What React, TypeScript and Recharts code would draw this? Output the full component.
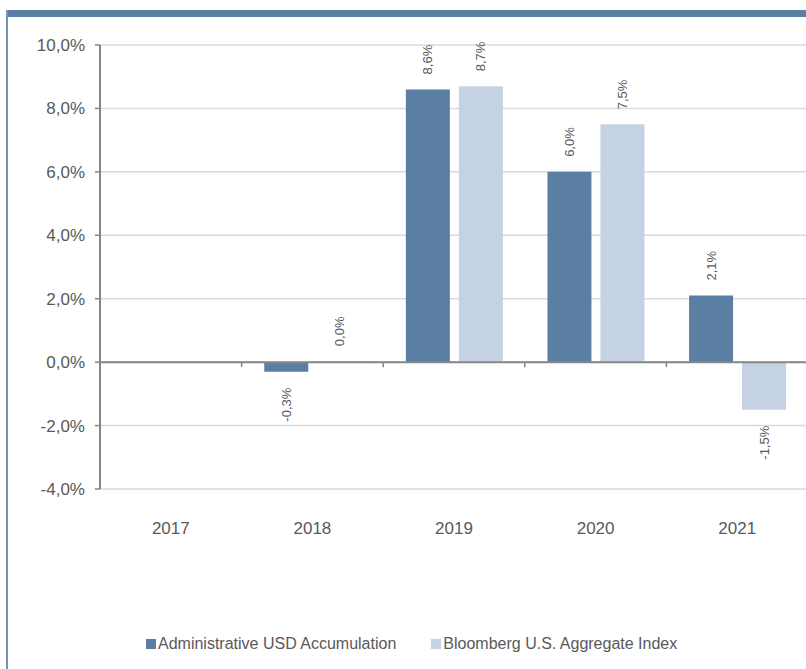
import React from "react";
import { BarChart, Bar, XAxis, YAxis, CartesianGrid, ReferenceLine, LabelList, Legend } from "recharts";

const years = ["2017", "2018", "2019", "2020", "2021"];
const fundReturns: (number | null)[] = [null, -0.3, 8.6, 6.0, 2.1];
const indexReturns: (number | null)[] = [null, 0.0, 8.7, 7.5, -1.5];
const seriesNames = ["Administrative USD Accumulation", "Bloomberg U.S. Aggregate Index"];
const yTicks = [-4, -2, 0, 2, 4, 6, 8, 10];

const DARK = "#5b7fa3";
const LIGHT = "#c5d2e3";
const TEXT = "#595959";
const AXIS = "#868686";
const FONT = "'Liberation Sans', Arial, sans-serif";

const data = years.map((y, i) => ({ year: y, fund: fundReturns[i], index: indexReturns[i] }));

const fmt = (v: number) => `${v.toFixed(1).replace(".", ",")}%`;

const RotLabel = (props: any) => {
  const { x, y, width, height, value } = props;
  if (value === null || value === undefined) return null;
  const top = Math.min(y, y + height);
  const bottom = Math.max(y, y + height);
  const cx = x + width / 2;
  const neg = value < 0;
  const ay = neg ? bottom + 16 : top - 15;
  return (
    <text
      x={cx}
      y={ay}
      transform={`rotate(-90 ${cx} ${ay})`}
      textAnchor={neg ? "end" : "start"}
      dominantBaseline="central"
      fontSize={13}
      fill={TEXT}
      fontFamily={FONT}
    >
      {fmt(value)}
    </text>
  );
};

// zero line with tick marks at the category band boundaries
const ZeroAxis = (props: any) => {
  const { x1, y1, x2 } = props;
  const n = years.length;
  const step = (x2 - x1) / n;
  const ticks = [];
  for (let i = 1; i < n; i++) {
    const tx = x1 + step * i;
    ticks.push(<line key={i} x1={tx} x2={tx} y1={y1} y2={y1 + 5} stroke={AXIS} strokeWidth={1.5} />);
  }
  return (
    <g>
      <line x1={x1} x2={x2} y1={y1} y2={y1} stroke={AXIS} strokeWidth={2} />
      {ticks}
    </g>
  );
};

const LegendContent = () => (
  <div style={{ display: "flex", height: 20, alignItems: "center", fontFamily: FONT, fontSize: 16, color: TEXT, paddingLeft: 146 }}>
    {seriesNames.map((n, i) => (
      <div key={n} style={{ display: "flex", alignItems: "center", marginRight: 35 }}>
        <span style={{ display: "inline-block", width: 10, height: 10, background: i === 0 ? DARK : LIGHT, marginRight: 2 }} />
        <span>{n}</span>
      </div>
    ))}
  </div>
);

const zeroMin = (value: any) => (value === 0 ? 1 : 0);

export default function App() {
  return (
    <div style={{ position: "fixed", left: 0, top: 0, width: 806, height: 669, overflow: "hidden", background: "#fff" }}>
      <div style={{ position: "absolute", left: 0, top: 0 }}>
        <BarChart
          width={808}
          height={669}
          data={data}
          margin={{ top: 45, right: 0, bottom: 100, left: 0 }}
          barCategoryGap="16%"
          barGap={9}
        >
          <CartesianGrid vertical={false} stroke="#dadada" strokeWidth={1.5} />
          <XAxis
            dataKey="year"
            axisLine={false}
            tickLine={false}
            tickSize={0}
            tickMargin={33}
            height={60}
            interval={0}
            tick={{ fill: TEXT, fontSize: 17, fontFamily: FONT }}
          />
          <YAxis
            domain={[-4, 10]}
            ticks={yTicks}
            width={100}
            tickFormatter={fmt}
            axisLine={{ stroke: AXIS, strokeWidth: 2 }}
            tickLine={{ stroke: AXIS, strokeWidth: 1.5 }}
            tickSize={5}
            tickMargin={10}
            tick={{ fill: TEXT, fontSize: 17, fontFamily: FONT }}
            interval={0}
          />
          <ReferenceLine y={0} stroke={AXIS} strokeWidth={2} shape={ZeroAxis} />
          <Bar dataKey="fund" name={seriesNames[0]} fill={DARK} isAnimationActive={false} minPointSize={zeroMin}>
            <LabelList dataKey="fund" content={RotLabel} />
          </Bar>
          <Bar dataKey="index" name={seriesNames[1]} fill={LIGHT} isAnimationActive={false} minPointSize={zeroMin}>
            <LabelList dataKey="index" content={RotLabel} />
          </Bar>
          <Legend
            content={LegendContent}
            height={20}
            wrapperStyle={{ top: 634, left: 0, bottom: "auto", width: 806 }}
          />
        </BarChart>
      </div>
      <div style={{ position: "absolute", zIndex: 5, left: 7, top: 10, width: 799, height: 7, background: DARK }} />
      <div style={{ position: "absolute", zIndex: 5, left: 6, top: 10, width: 2, height: 659, background: "#7095bb" }} />
    </div>
  );
}
